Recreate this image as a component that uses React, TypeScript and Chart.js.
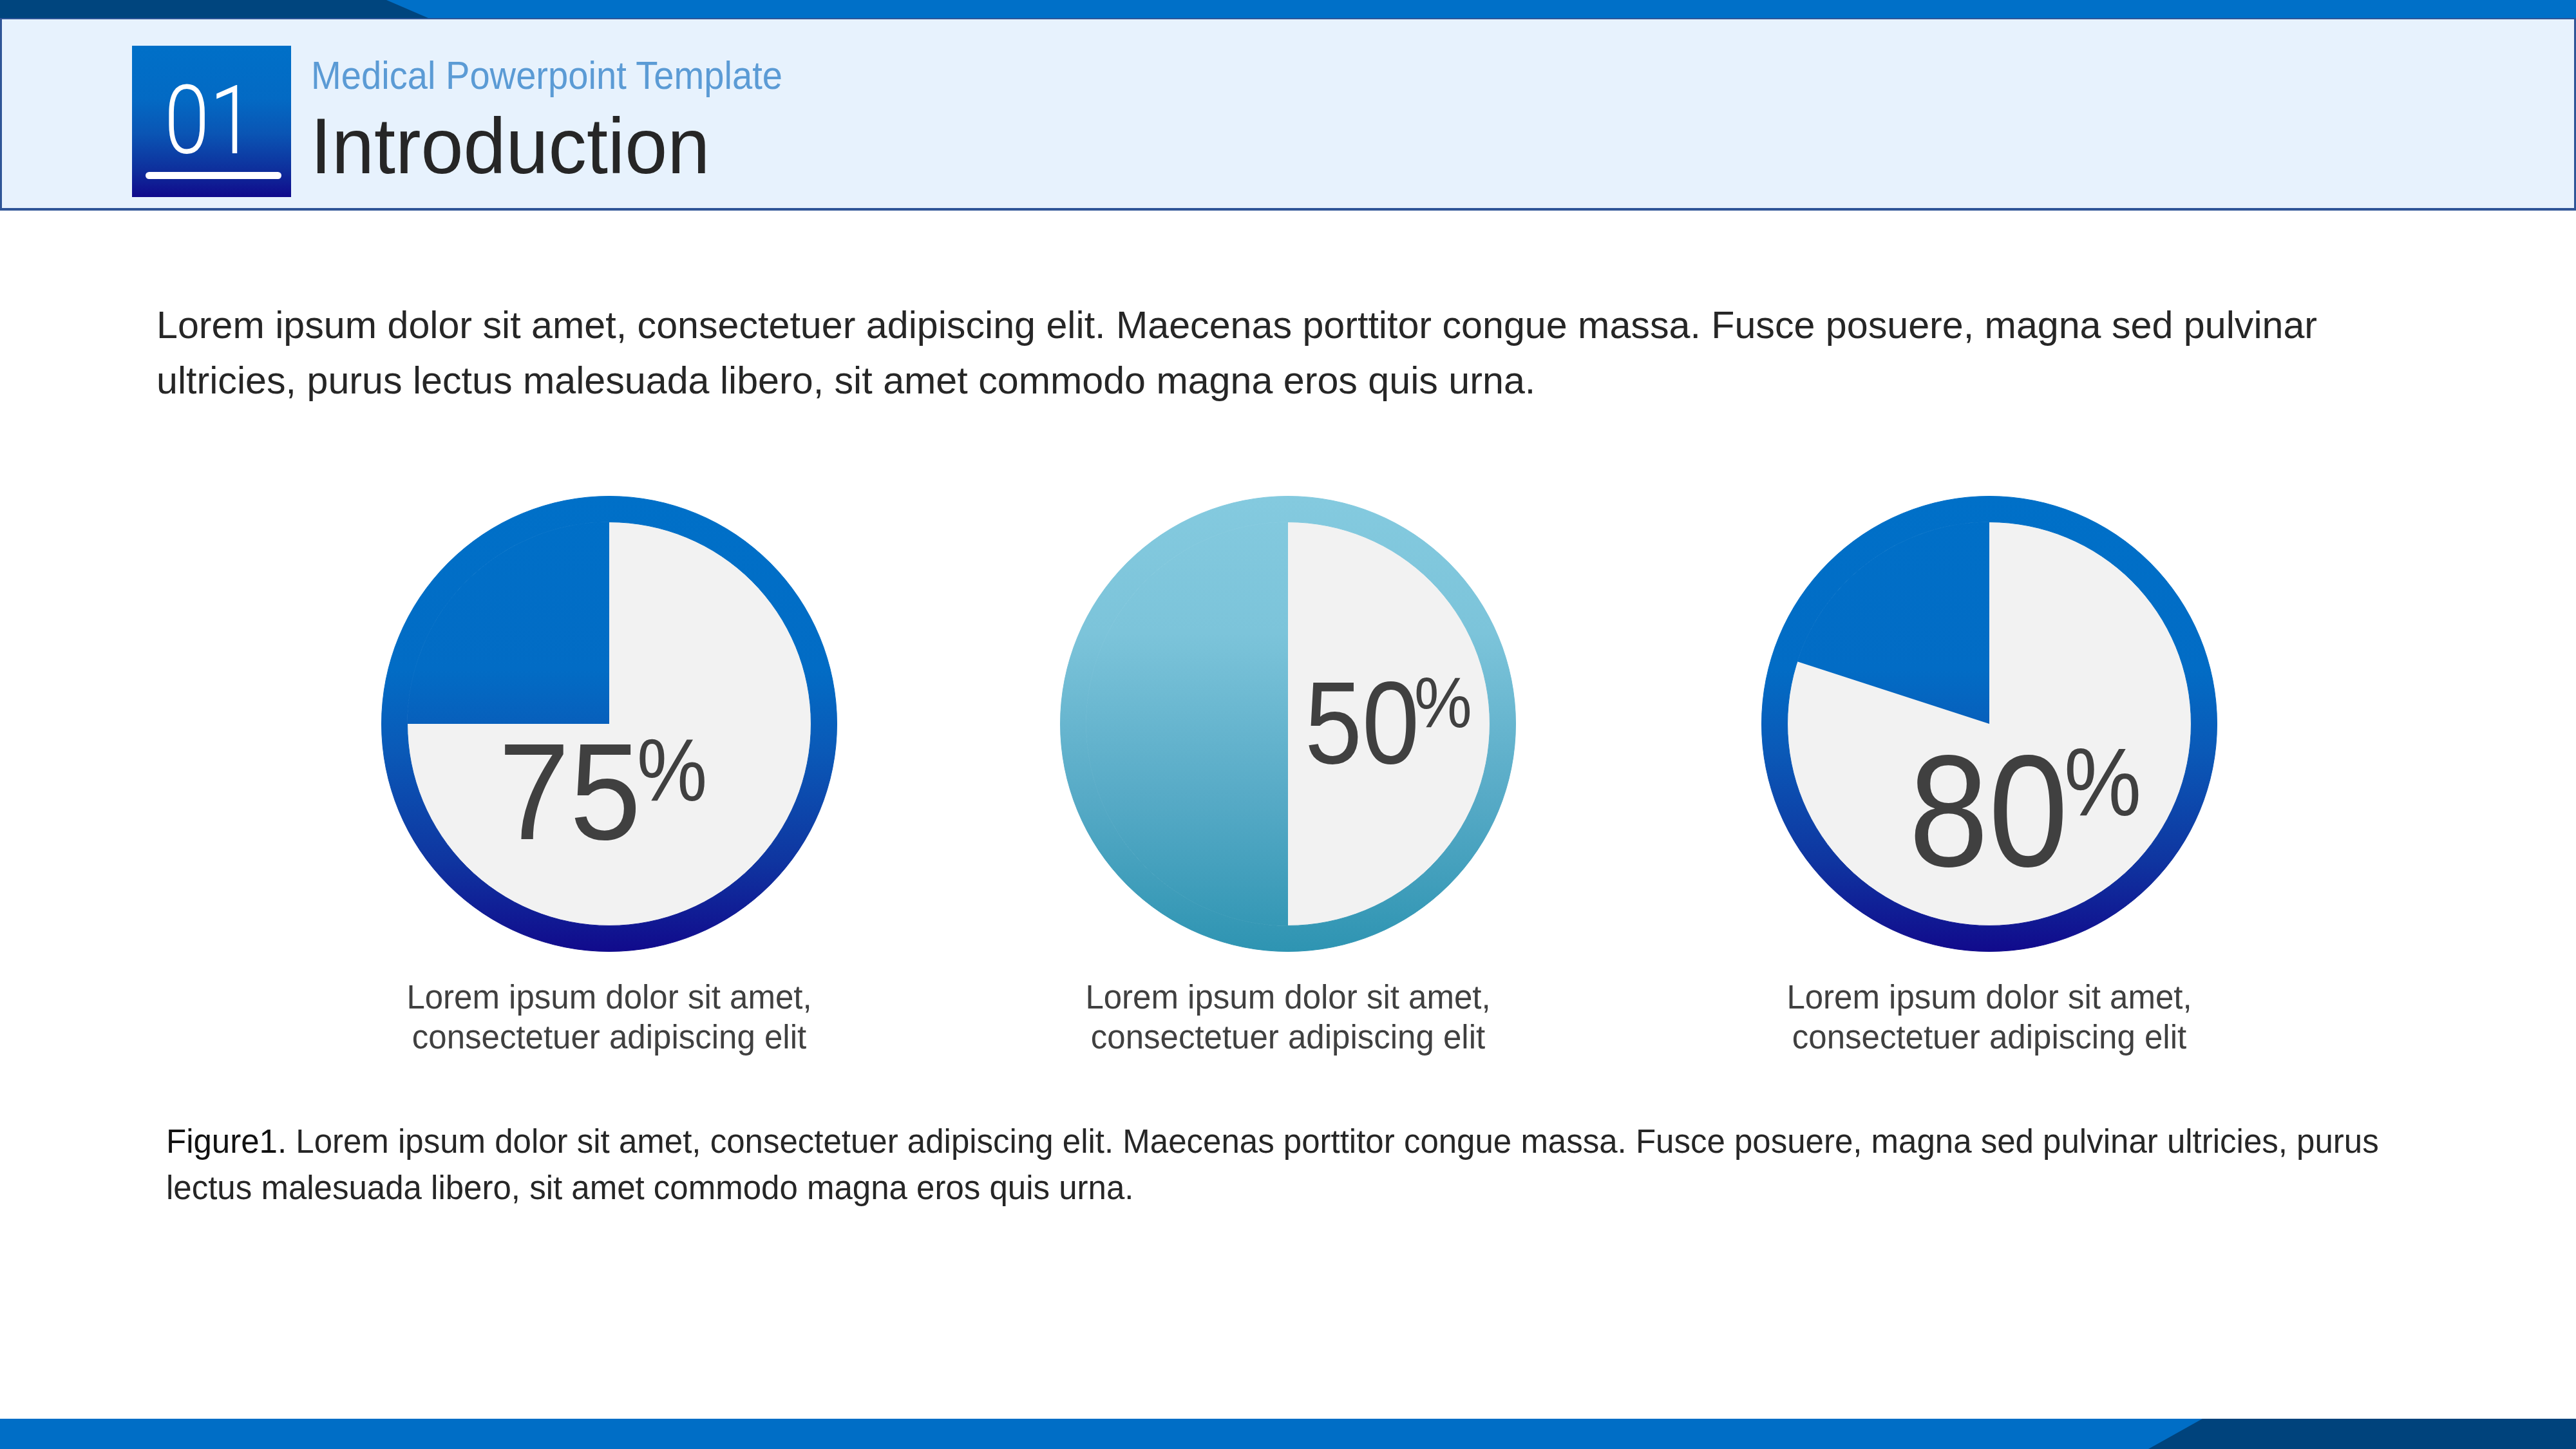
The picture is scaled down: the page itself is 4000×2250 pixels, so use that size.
import { useEffect, useRef } from "react";
import { Chart, registerables } from "chart.js";

Chart.register(...registerables);

// Completion share shown by each pie, in percent
const shares = [75, 50, 80];
const sliceNames = ["Completed", "Remaining"];
const ringNames = ["Total"];

const headerNumber = "01";
const headerKicker = "Medical Powerpoint Template";
const headerTitle = "Introduction";

const introLines = [
  "Lorem ipsum dolor sit amet, consectetuer adipiscing elit. Maecenas porttitor congue massa. Fusce posuere, magna sed pulvinar",
  "ultricies, purus lectus malesuada libero, sit amet commodo magna eros quis urna.",
];

const pieCaptionLines = ["Lorem ipsum dolor sit amet,", "consectetuer adipiscing elit"];

const figureLead = "Figure1.";
const figureLines = [
  " Lorem ipsum dolor sit amet, consectetuer adipiscing elit. Maecenas porttitor congue massa. Fusce posuere, magna sed pulvinar ultricies, purus",
  "lectus malesuada libero, sit amet commodo magna eros quis urna.",
];

const FONT = '"Liberation Sans", Arial, sans-serif';

const BLUE_STOPS: [number, string][] = [
  [0, "#0070C8"],
  [0.38, "#026CC5"],
  [0.56, "#0A59B7"],
  [0.8, "#0F35A0"],
  [1, "#110A8C"],
];
const TEAL_STOPS: [number, string][] = [
  [0, "#84CADF"],
  [0.3, "#7CC4DA"],
  [0.65, "#58ABC7"],
  [1, "#2E94B2"],
];

type LabelOpts = {
  color: string;
  numSize: number;
  numX: number;
  numY: number;
  numSqueeze: number;
  pctSize: number;
  pctX: number;
  pctY: number;
  pctSqueeze: number;
};

// Draws the big value with a raised percent sign inside the pie
const percentLabelPlugin = {
  id: "percentLabel",
  afterDraw(chart: any, _args: any, opts: LabelOpts) {
    const arc = chart.getDatasetMeta(1).data[0];
    if (!arc) return;
    const value = chart.data.datasets[1].data[0];
    const ctx = chart.ctx as CanvasRenderingContext2D;
    ctx.save();
    ctx.fillStyle = opts.color;
    ctx.textAlign = "left";
    ctx.textBaseline = "alphabetic";
    ctx.translate(arc.x + opts.numX, arc.y + opts.numY);
    ctx.scale(opts.numSqueeze, 1);
    ctx.font = `${opts.numSize}px ${FONT}`;
    ctx.fillText(String(value), 0, 0);
    ctx.restore();

    ctx.save();
    ctx.fillStyle = opts.color;
    ctx.textAlign = "left";
    ctx.textBaseline = "alphabetic";
    ctx.translate(arc.x + opts.pctX, arc.y + opts.pctY);
    ctx.scale(opts.pctSqueeze, 1);
    ctx.font = `${opts.pctSize}px ${FONT}`;
    ctx.fillText("%", 0, 0);
    ctx.restore();
  },
};

type PieProps = {
  value: number;
  cx: number;
  cy: number;
  radius: number;
  ring: number;
  stops: [number, string][];
  label: LabelOpts;
};

function SharePie({ value, cx, cy, radius, ring, stops, label }: PieProps) {
  const ref = useRef<HTMLCanvasElement>(null);

  useEffect(() => {
    if (!ref.current) return;
    const gradient = (c: any) => {
      const area = c.chart.chartArea;
      if (!area) return stops[0][1];
      const g = c.chart.ctx.createLinearGradient(0, area.top, 0, area.bottom);
      stops.forEach(([s, col]) => g.addColorStop(s, col));
      return g;
    };
    const chart = new Chart(ref.current, {
      type: "pie",
      data: {
        labels: sliceNames,
        datasets: [
          {
            label: ringNames[0],
            data: [100],
            backgroundColor: gradient,
            borderColor: gradient,
            borderWidth: 1,
            weight: ring,
          },
          {
            label: sliceNames[0],
            data: [value, 100 - value],
            backgroundColor: (c: any) => (c.dataIndex === 0 ? "#F2F2F2" : gradient(c)),
            borderWidth: 0,
            weight: radius - ring,
          },
        ],
      },
      options: {
        responsive: false,
        maintainAspectRatio: false,
        animation: false,
        events: [],
        layout: { padding: 0 },
        plugins: {
          legend: { display: false },
          tooltip: { enabled: false },
          percentLabel: label,
        } as any,
      },
      plugins: [percentLabelPlugin as any],
    });
    return () => chart.destroy();
  }, [value, cx, cy, radius, ring, stops, label]);

  const size = radius * 2 + 2;
  return (
    <canvas
      ref={ref}
      width={size}
      height={size}
      style={{ position: "absolute", left: cx - size / 2, top: cy - size / 2, width: size, height: size }}
    />
  );
}

type LineProps = {
  x: number;
  base: number;
  size: number;
  color: string;
  squeeze?: number;
  family?: string;
  weight?: number;
  width?: number;
  center?: boolean;
  children: any;
};

function Line({ x, base, size, color, squeeze = 1, family = FONT, weight = 400, width, center, children }: LineProps) {
  return (
    <div
      style={{
        position: "absolute",
        left: x,
        top: base - 0.8465 * size,
        width: width,
        fontFamily: family,
        fontSize: size,
        fontWeight: weight,
        lineHeight: `${size}px`,
        color,
        whiteSpace: "pre",
        textAlign: center ? "center" : "left",
        transform: squeeze !== 1 ? `scaleX(${squeeze})` : undefined,
        transformOrigin: "0 0",
      }}
    >
      {children}
    </div>
  );
}

const PIE_CY = 1124;
const PIE_R = 353;
const PIE_RING = 40;

const pieLayouts = [
  {
    cx: 946,
    stops: BLUE_STOPS,
    label: { color: "#404040", numSize: 214, numX: -172, numY: 179, numSqueeze: 0.93, pctSize: 138, pctX: 43, pctY: 119, pctSqueeze: 0.89 },
  },
  {
    cx: 2000,
    stops: TEAL_STOPS,
    label: { color: "#404040", numSize: 182, numX: 26, numY: 61, numSqueeze: 0.88, pctSize: 112, pctX: 196, pctY: 5, pctSqueeze: 0.9 },
  },
  {
    cx: 3089,
    stops: BLUE_STOPS,
    label: { color: "#404040", numSize: 247, numX: -125, numY: 221, numSqueeze: 0.9, pctSize: 150, pctX: 116, pctY: 142, pctSqueeze: 0.9 },
  },
];

export default function App() {
  return (
    <div
      style={{
        position: "absolute",
        left: 0,
        top: 0,
        width: 4000,
        height: 2250,
        background: "#FFFFFF",
        overflow: "hidden",
        fontFamily: FONT,
      }}
    >
      {/* top band */}
      <div style={{ position: "absolute", left: 0, top: 0, width: 4000, height: 28, background: "#0070C8" }} />
      <div
        style={{
          position: "absolute",
          left: 0,
          top: 0,
          width: 700,
          height: 28,
          background: "#00457E",
          clipPath: "polygon(0 0, 600px 0, 665px 100%, 0 100%)",
        }}
      />

      {/* header panel */}
      <div
        style={{
          position: "absolute",
          left: 0,
          top: 28,
          width: 4000,
          height: 299,
          boxSizing: "border-box",
          background: "#E7F2FD",
          border: "3px solid #2F5597",
          borderTopWidth: 2,
          borderBottomWidth: 4,
        }}
      />
      <div
        style={{
          position: "absolute",
          left: 205,
          top: 71,
          width: 247,
          height: 235,
          background: "linear-gradient(180deg, #0070C8 0%, #036AC4 35%, #0A55B4 58%, #0E2F9C 82%, #100A8C 100%)",
        }}
      />
      <Line x={255} base={239} size={149} color="#FFFFFF" squeeze={0.85} family='Roboto, "Liberation Sans", sans-serif' weight={300}>
        {headerNumber}
      </Line>
      <div style={{ position: "absolute", left: 226, top: 267, width: 211, height: 11, borderRadius: 6, background: "#FFFFFF" }} />
      <Line x={483} base={139} size={61} color="#5B9BD5" squeeze={0.92}>
        {headerKicker}
      </Line>
      <Line x={482} base={269} size={123} color="#262626" squeeze={0.965}>
        {headerTitle}
      </Line>

      {/* intro paragraph */}
      {introLines.map((t, i) => (
        <Line key={i} x={243} base={526 + i * 86} size={59} color="#262626" squeeze={1.003}>
          {t}
        </Line>
      ))}

      {/* pies */}
      {pieLayouts.map((p, i) => (
        <SharePie key={i} value={shares[i]} cx={p.cx} cy={PIE_CY} radius={PIE_R} ring={PIE_RING} stops={p.stops} label={p.label} />
      ))}

      {/* pie captions */}
      {pieLayouts.map((p, i) =>
        pieCaptionLines.map((t, j) => (
          <Line key={`${i}-${j}`} x={p.cx - 500} width={1000} center base={1566 + j * 62} size={51} color="#404040">
            {t}
          </Line>
        ))
      )}

      {/* figure caption */}
      <Line x={258} base={1790} size={51} color="#262626">
        <span style={{ color: "#111111" }}>{figureLead}</span>
        {figureLines[0]}
      </Line>
      <Line x={258} base={1862} size={51} color="#262626">
        {figureLines[1]}
      </Line>

      {/* bottom band */}
      <div style={{ position: "absolute", left: 0, top: 2203, width: 4000, height: 47, background: "#006EC6" }} />
      <div
        style={{
          position: "absolute",
          left: 3300,
          top: 2203,
          width: 700,
          height: 47,
          background: "#00437C",
          clipPath: "polygon(120px 0, 700px 0, 700px 100%, 36px 100%)",
        }}
      />
    </div>
  );
}
